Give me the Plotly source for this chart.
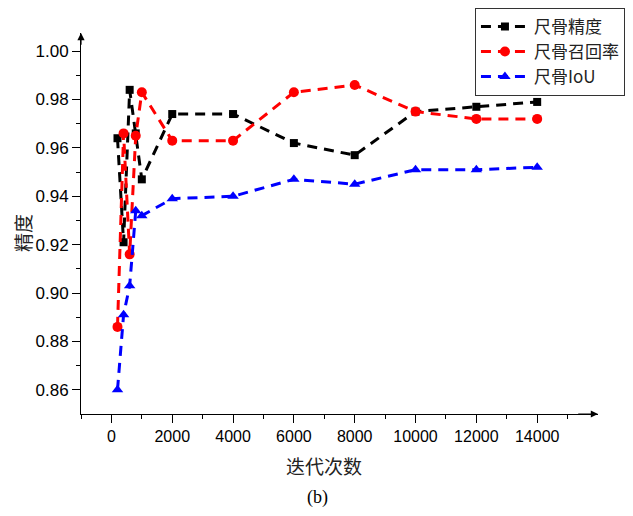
import plotly.graph_objects as go

# ---- data ----
iterations = [200, 400, 600, 800, 1000, 2000, 4000, 6000, 8000, 10000, 12000, 14000]
ulna_precision = [0.964, 0.921, 0.984, 0.966, 0.947, 0.974, 0.974, 0.962, 0.957, 0.975, 0.977, 0.979]
ulna_recall = [0.886, 0.966, 0.916, 0.965, 0.983, 0.963, 0.963, 0.983, 0.986, 0.975, 0.972, 0.972]
ulna_iou = [0.860, 0.891, 0.903, 0.934, 0.932, 0.939, 0.940, 0.947, 0.945, 0.951, 0.951, 0.952]

series_names = ["尺骨精度", "尺骨召回率", "尺骨IoU"]
x_tick_vals = [0, 2000, 4000, 6000, 8000, 10000, 12000, 14000]
x_tick_text = ["0", "2000", "4000", "6000", "8000", "10000", "12000", "14000"]
x_minor_vals = [-1000, 1000, 3000, 5000, 7000, 9000, 11000, 13000, 15000]
y_tick_vals = [0.86, 0.88, 0.90, 0.92, 0.94, 0.96, 0.98, 1.00]
y_tick_text = ["0.86", "0.88", "0.90", "0.92", "0.94", "0.96", "0.98", "1.00"]
y_minor_vals = [0.87, 0.89, 0.91, 0.93, 0.95, 0.97, 0.99]

x_title = "迭代次数"
y_title = "精度"
caption = "(b)"

CJK = "Noto Sans CJK SC"
SANS = "Liberation Sans, Arial"
SERIF = "Liberation Serif, Times New Roman"

fig = go.Figure()
styles = [
    (ulna_precision, "#000000", "square", 8),
    (ulna_recall, "#FF0000", "circle", 10),
    (ulna_iou, "#0000FF", "triangle-up", 10),
]
for (vals, color, sym, msize), name in zip(styles, series_names):
    fig.add_trace(go.Scatter(
        x=iterations, y=vals, name=name, mode="lines+markers",
        line=dict(color=color, width=3, dash="10px,7px"),
        marker=dict(color=color, symbol=sym, size=msize),
    ))

fig.update_layout(
    width=633, height=516,
    margin=dict(l=81, r=35, t=33, b=102, autoexpand=False),
    paper_bgcolor="white", plot_bgcolor="white",
    showlegend=True,
    legend=dict(
        x=0.762, y=1.066, xanchor="left", yanchor="top",
        bgcolor="white", bordercolor="#333333", borderwidth=1,
        font=dict(family=CJK, size=17, color="#222222"),
        itemwidth=48,
        tracegroupgap=0,
    ),
    font=dict(family=SANS, color="black"),
)

fig.update_xaxes(
    range=[-1000, 16000], showgrid=False, zeroline=False,
    showline=True, linecolor="black", linewidth=1,
    tickmode="array", tickvals=x_tick_vals, ticktext=x_tick_text,
    ticks="outside", ticklen=8, tickwidth=1, tickcolor="black",
    tickfont=dict(family=SANS, size=16, color="black"),
    minor=dict(tickmode="array", tickvals=x_minor_vals, ticks="outside",
               ticklen=4, tickwidth=1, tickcolor="black"),
)
fig.update_yaxes(
    range=[0.85, 1.0075], showgrid=False, zeroline=False,
    showline=True, linecolor="black", linewidth=1,
    tickmode="array", tickvals=y_tick_vals, ticktext=y_tick_text,
    ticks="outside", ticklen=8, tickwidth=1, tickcolor="black",
    tickfont=dict(family=SANS, size=17, color="black"),
    minor=dict(tickmode="array", tickvals=y_minor_vals, ticks="outside",
               ticklen=4, tickwidth=1, tickcolor="black"),
)

# axis arrows
fig.add_annotation(x=16000, y=0.85, ax=15300, ay=0.85, xref="x", yref="y",
                   axref="x", ayref="y", text="", showarrow=True,
                   arrowhead=2, arrowsize=1.2, arrowwidth=1.2, arrowcolor="black")
fig.add_annotation(x=-1000, y=1.0075, ax=-1000, ay=1.002, xref="x", yref="y",
                   axref="x", ayref="y", text="", showarrow=True,
                   arrowhead=2, arrowsize=1.2, arrowwidth=1.2, arrowcolor="black")

# titles
fig.add_annotation(text=y_title, xref="paper", yref="paper", x=-0.114, y=0.475,
                   xanchor="center", yanchor="middle", textangle=-90, showarrow=False,
                   font=dict(family=CJK, size=19, color="#222222"))
fig.add_annotation(text=x_title, xref="paper", yref="paper", x=0.470, y=-0.134,
                   xanchor="center", yanchor="middle", showarrow=False,
                   font=dict(family=CJK, size=19, color="#222222"))
fig.add_annotation(text=caption, xref="paper", yref="paper", x=0.458, y=-0.22,
                   xanchor="center", yanchor="middle", showarrow=False,
                   font=dict(family=SERIF, size=18, color="black"))

fig.write_html("out.html", config={"displayModeBar": False},
               post_script="document.body.style.margin='0px';")
